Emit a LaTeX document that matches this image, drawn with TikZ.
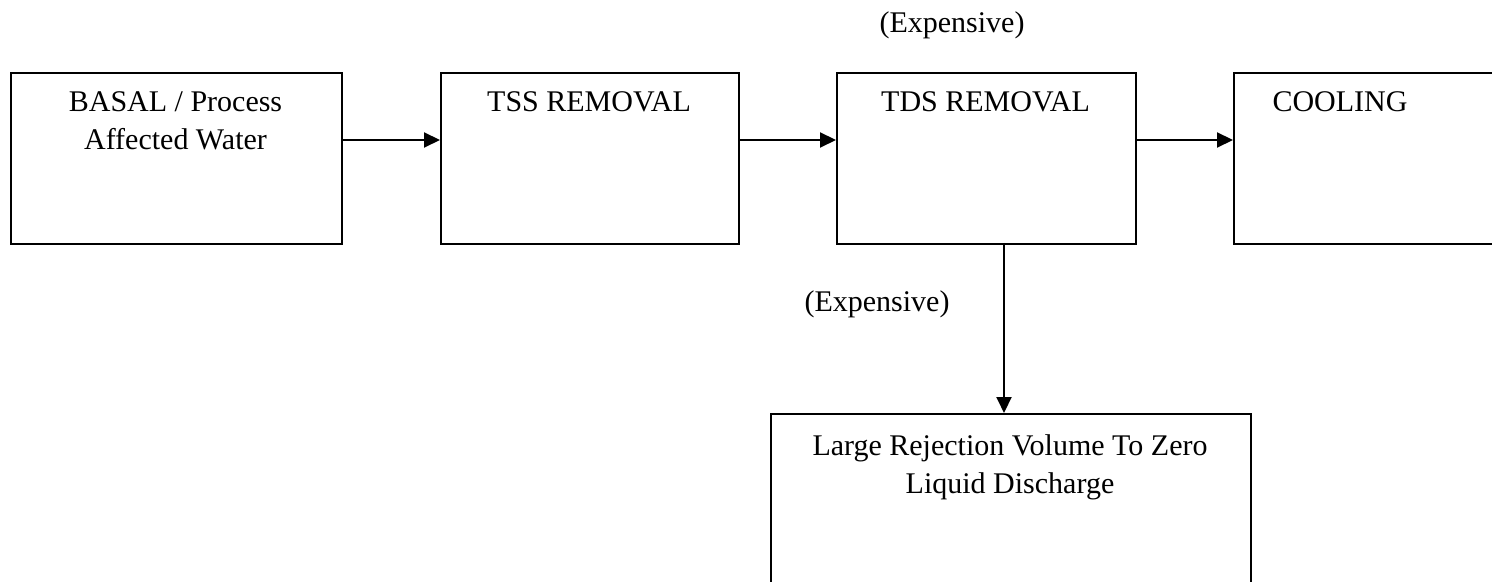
\documentclass[tikz,border=0pt]{standalone}
\usepackage{fontspec}
\setmainfont{Liberation Serif}
\usetikzlibrary{arrows.meta}
\begin{document}
\begin{tikzpicture}[x=0.5pt,y=-0.5pt,
  box/.style={draw,line width=1.2pt,rectangle,inner sep=0pt,anchor=north west},
  txt/.style={align=center,font=\fontsize{15pt}{19pt}\selectfont,anchor=base,inner sep=0pt},
  arr/.style={line width=1pt,-{Triangle[length=8pt,width=7.5pt]}}]
\useasboundingbox (0,0) rectangle (1492,582);
\clip (0,0) rectangle (1492,582);
\node[box,minimum width=331*0.5pt,minimum height=171*0.5pt] (b1) at (10,72) {};
\node[box,minimum width=298*0.5pt,minimum height=171*0.5pt] (b2) at (440,72) {};
\node[box,minimum width=299*0.5pt,minimum height=171*0.5pt] (b3) at (836,72) {};
\node[box,minimum width=280*0.5pt,minimum height=171*0.5pt] (b4) at (1233,72) {};
\node[box,minimum width=480*0.5pt,minimum height=190*0.5pt] (b5) at (770,413) {};
\node[txt] (t1) at (175.5,150) {BASAL / Process\\Affected Water};
\node[txt] (t2) at (589,112) {TSS REMOVAL};
\node[txt] (t3) at (985.5,112) {TDS REMOVAL};
\node[txt] (t4) at (1340,112) {COOLING};
\node[txt] (t5) at (1010,493) {Large Rejection Volume To Zero\\Liquid Discharge};
\node[txt] (e1) at (952,33) {(Expensive)};
\node[txt] (e2) at (877,312) {(Expensive)};
\coordinate (h) at (0,140);
\draw[arr] (b1.east |- h) -- (b2.west |- h);
\draw[arr] (b2.east |- h) -- (b3.west |- h);
\draw[arr] (b3.east |- h) -- (b4.west |- h);
\coordinate (d) at (1004,243);
\draw[arr] (d) -- (d |- b5.north);
\end{tikzpicture}
\end{document}
